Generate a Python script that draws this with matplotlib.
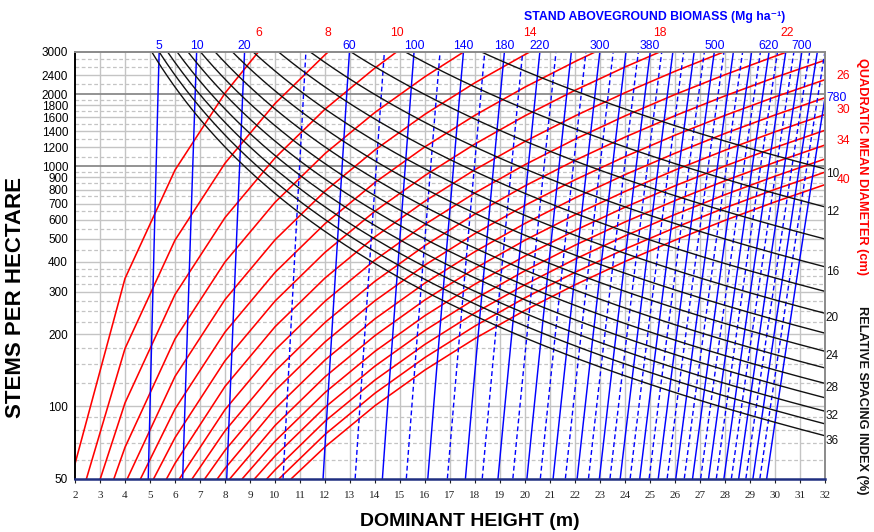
import numpy as np
import matplotlib
matplotlib.use("Agg")
import matplotlib.pyplot as plt
import matplotlib.transforms as mtransforms

plt.rcParams['font.family'] = ['Liberation Sans', 'DejaVu Sans']

# ---------------- data ----------------
height_ticks = list(range(2, 33))
stems_ticks = [50, 100, 200, 300, 400, 500, 600, 700, 800, 900, 1000,
               1200, 1400, 1600, 1800, 2000, 2400, 3000]
stems_dashed = [60, 70, 80, 90, 125, 150, 175, 225, 250, 275, 325, 350, 375,
                450, 550, 650, 750, 850, 950, 1100, 1300, 1500, 1700, 1900,
                2200, 2600, 2800]
stems_dark = [1000, 2000]

# relative spacing index isolines (%)
rsi_levels = [10, 12, 14, 16, 18, 20, 22, 24, 26, 28, 30, 32, 34, 36]
rsi_labels = [10, 12, 16, 20, 24, 28, 32, 36]

# quadratic mean diameter isolines (cm)
dq_levels = [6, 8, 10, 12, 14, 16, 18, 20, 22, 24, 26, 28, 30, 32, 34, 36, 38, 40]
dq_top_labels = [6, 8, 10, 14, 18, 22]
dq_right_labels = [26, 30, 34, 40]

# stand aboveground biomass isolines (Mg/ha)
biomass_solid = [5, 10, 20, 60, 100, 140, 180, 220, 260, 300, 340, 380, 420,
                 460, 500, 540, 580, 620, 660, 700, 740, 780]
biomass_dashed = [40, 80, 120, 160, 200, 240, 280, 320, 360, 400, 440, 480,
                  520, 560, 600, 640, 680, 720, 760]
biomass_top_labels = [5, 10, 20, 60, 100, 140, 180, 220, 300, 380, 500, 620, 700]
biomass_right_labels = [780]

# diagram model coefficients (estimated from the chart)
# Dq = exp(DQ_LNA) * H^DQ_B * N^DQ_C
DQ_LNA, DQ_B, DQ_C = 2.764, 1.0976, -0.4276
# Biomass = exp(BM_LNA) * H^BM_B * N^BM_C
BM_LNA, BM_B, BM_C = -2.6515, 2.8137, -0.05824

H_MIN, H_MAX = 2, 32
N_MIN, N_MAX = 50, 3000

RED = '#ff0000'
BLUE = '#0000ff'
BLACK = '#111111'

# ---------------- figure ----------------
W, Hpx = 874, 532
fig = plt.figure(figsize=(W / 100, Hpx / 100), dpi=100)
ax = fig.add_axes([75 / W, 53.5 / Hpx, 750 / W, 426.5 / Hpx])
ax.set_xlim(H_MIN, H_MAX)
ax.set_yscale('log')
ax.set_ylim(N_MIN, N_MAX)

# grid
for x in height_ticks[1:-1]:
    ax.axvline(x, color='#c4c4c4', lw=1.0, zorder=0)
for y in stems_ticks:
    if y in stems_dark:
        ax.axhline(y, color='#8a8a8a', lw=1.3, zorder=0.5)
    elif y not in (N_MIN, N_MAX):
        ax.axhline(y, color='#c4c4c4', lw=1.0, zorder=0)
for y in stems_dashed:
    ax.axhline(y, color='#c4c4c4', lw=0.9, ls=(0, (3, 2)), zorder=0)

# RSI lines: N = 1e8 / (RSI * H)^2
hh = np.linspace(H_MIN, H_MAX, 400)
for r in rsi_levels:
    n = 1e8 / (r * hh) ** 2
    ax.plot(hh, n, color=BLACK, lw=1.0, zorder=3)


def dq_n(dq, h):
    return np.exp((np.log(dq) - DQ_LNA - DQ_B * np.log(h)) / DQ_C)


def dq_h(dq, n):
    return np.exp((np.log(dq) - DQ_LNA - DQ_C * np.log(n)) / DQ_B)


for d in dq_levels:
    h0 = max(dq_h(d, N_MIN), H_MIN)
    h1 = min(dq_h(d, N_MAX), H_MAX)
    hv = [h0] + [e for e in range(2, 33, 2) if h0 < e < h1] + [h1]
    hv = np.array(hv, dtype=float)
    ax.plot(hv, dq_n(d, hv), color=RED, lw=1.15, zorder=2)


def bm_h(b, n):
    return np.exp((np.log(b) - BM_LNA - BM_C * np.log(n)) / BM_B)


def bm_n(b, h):
    return np.exp((np.log(b) - BM_LNA - BM_B * np.log(h)) / BM_C)


nn = np.geomspace(N_MIN, N_MAX, 60)
for b in biomass_solid:
    ax.plot(bm_h(b, nn), nn, color=BLUE, lw=1.05, zorder=2.5)
for b in biomass_dashed:
    ax.plot(bm_h(b, nn), nn, color=BLUE, lw=1.0, ls=(0, (3.5, 2.2)), zorder=2.5)

# ---------------- isoline labels ----------------
top_tr = mtransforms.blended_transform_factory(ax.transData, ax.transAxes)
right_tr = mtransforms.blended_transform_factory(ax.transAxes, ax.transData)

for b in biomass_top_labels:
    ax.text(bm_h(b, N_MAX), 1.0, str(b), color=BLUE, fontsize=8.7,
            ha='center', va='center', clip_on=False,
            transform=mtransforms.offset_copy(top_tr, fig=fig, x=0, y=4.5, units='points'))
for b in biomass_right_labels:
    ax.text(1.0, bm_n(b, H_MAX), str(b), color=BLUE, fontsize=8.7,
            ha='left', va='center', clip_on=False,
            transform=mtransforms.offset_copy(right_tr, fig=fig, x=1, y=0, units='points'))

for d in dq_top_labels:
    ax.text(dq_h(d, N_MAX), 1.0, str(d), color=RED, fontsize=8.7,
            ha='center', va='center', clip_on=False,
            transform=mtransforms.offset_copy(top_tr, fig=fig, x=0, y=14, units='points'))
for d in dq_right_labels:
    ax.text(1.0, dq_n(d, H_MAX), str(d), color=RED, fontsize=8.7,
            ha='center', va='center', clip_on=False,
            transform=mtransforms.offset_copy(right_tr, fig=fig, x=13, y=3, units='points'))

for r in rsi_labels:
    ax.text(1.0, 1e8 / (r * H_MAX) ** 2, str(r), color=BLACK, fontsize=8.5,
            ha='left', va='center', clip_on=False,
            transform=mtransforms.offset_copy(right_tr, fig=fig, x=0.5, y=-3.5, units='points'))

# ---------------- axes styling ----------------
ax.set_xticks(height_ticks)
ax.set_xticklabels([str(v) for v in height_ticks], family='Liberation Serif', fontsize=8)
ax.tick_params(axis='x', direction='out', length=3, width=0.8, pad=6, colors='#222222')
ax.set_yticks(stems_ticks)
ax.set_yticklabels([str(v) for v in stems_ticks], fontsize=8.5)
ax.yaxis.set_minor_locator(matplotlib.ticker.NullLocator())
ax.tick_params(axis='y', length=0, pad=5)

ax.spines['left'].set_color('#000000')
ax.spines['left'].set_linewidth(1.4)
ax.spines['bottom'].set_color('#1f2f80')
ax.spines['bottom'].set_linewidth(1.8)
ax.spines['top'].set_color('#8a8a8a')
ax.spines['top'].set_linewidth(1.4)
ax.spines['right'].set_color('#8a8a8a')
ax.spines['right'].set_linewidth(1.4)
for s in ax.spines.values():
    s.set_zorder(5)

fig.text(16 / W, 1 - 298 / Hpx, 'STEMS PER HECTARE', rotation=90, fontsize=16,
         fontweight='bold', ha='center', va='center')
fig.text(470 / W, 1 - 521 / Hpx, 'DOMINANT HEIGHT (m)', fontsize=14,
         fontweight='bold', ha='center', va='center')
fig.text(655 / W, 1 - 17 / Hpx, 'STAND ABOVEGROUND BIOMASS (Mg ha\u207b\u00b9)',
         fontsize=8.8, fontweight='bold', color=BLUE, ha='center', va='center')
fig.text(862 / W, 1 - 166 / Hpx, 'QUADRATIC MEAN DIAMETER (cm)', rotation=270,
         fontsize=9.2, fontweight='bold', color=RED, ha='center', va='center')
fig.text(862 / W, 1 - 400 / Hpx, 'RELATIVE SPACING INDEX (%)', rotation=270,
         fontsize=9.2, fontweight='bold', color=BLACK, ha='center', va='center')

fig.savefig('out.png', dpi=100, facecolor='white')
